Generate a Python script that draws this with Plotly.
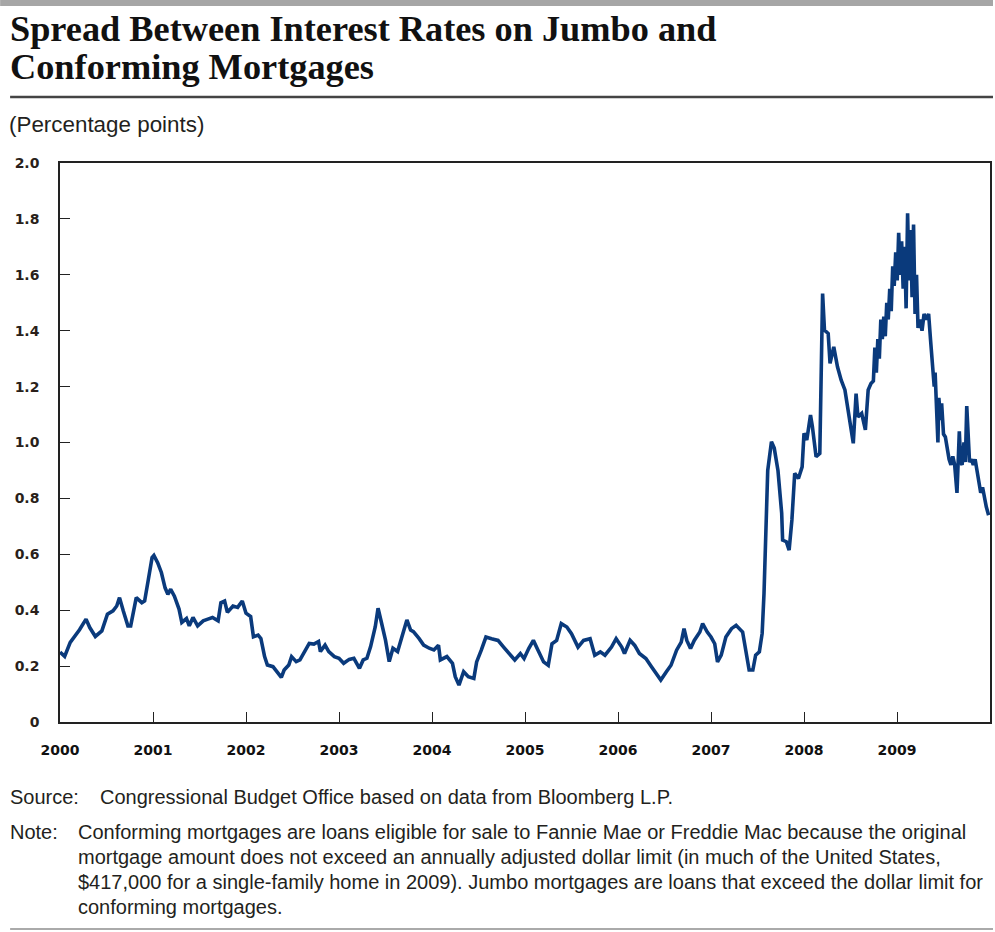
import plotly.graph_objects as go

# ---- data ----
years = [2000.00, 2000.05, 2000.11, 2000.16, 2000.21, 2000.28, 2000.32, 2000.38, 2000.45, 2000.51,
         2000.57, 2000.61, 2000.64, 2000.68, 2000.73, 2000.76, 2000.82, 2000.88, 2000.91, 2000.95,
         2000.99, 2001.01, 2001.05, 2001.09, 2001.13, 2001.16, 2001.19, 2001.23, 2001.28, 2001.31,
         2001.36, 2001.39, 2001.43, 2001.48, 2001.54, 2001.59, 2001.64, 2001.70, 2001.73, 2001.77,
         2001.80, 2001.86, 2001.91, 2001.96, 2002.00, 2002.05, 2002.08, 2002.13, 2002.16, 2002.20,
         2002.23, 2002.29, 2002.33, 2002.38, 2002.41, 2002.46, 2002.49, 2002.54, 2002.58, 2002.63,
         2002.68, 2002.73, 2002.78, 2002.80, 2002.85, 2002.89, 2002.95, 2003.00, 2003.05, 2003.11,
         2003.16, 2003.22, 2003.26, 2003.30, 2003.34, 2003.39, 2003.42, 2003.45, 2003.50, 2003.54,
         2003.58, 2003.63, 2003.68, 2003.73, 2003.77, 2003.80, 2003.86, 2003.91, 2003.97, 2004.02,
         2004.07, 2004.09, 2004.16, 2004.22, 2004.25, 2004.29, 2004.34, 2004.39, 2004.45, 2004.48,
         2004.53, 2004.58, 2004.64, 2004.71, 2004.77, 2004.84, 2004.89, 2004.95, 2004.99, 2005.04,
         2005.09, 2005.14, 2005.20, 2005.25, 2005.29, 2005.34, 2005.39, 2005.45, 2005.50, 2005.57,
         2005.63, 2005.70, 2005.75, 2005.81, 2005.86, 2005.93, 2005.98, 2006.04, 2006.07, 2006.13,
         2006.18, 2006.23, 2006.30, 2006.36, 2006.41, 2006.46, 2006.52, 2006.57, 2006.63, 2006.68,
         2006.71, 2006.74, 2006.78, 2006.82, 2006.88, 2006.91, 2006.96, 2007.00, 2007.04, 2007.07,
         2007.11, 2007.16, 2007.22, 2007.27, 2007.34, 2007.38, 2007.41, 2007.45, 2007.48, 2007.52,
         2007.55, 2007.57, 2007.59, 2007.61, 2007.65, 2007.68, 2007.72, 2007.76, 2007.77, 2007.81,
         2007.84, 2007.87, 2007.90, 2007.94, 2007.98, 2008.00, 2008.03, 2008.07, 2008.09, 2008.13,
         2008.17, 2008.20, 2008.22, 2008.26, 2008.28, 2008.32, 2008.36, 2008.40, 2008.44, 2008.47,
         2008.50, 2008.53, 2008.56, 2008.58, 2008.62, 2008.66, 2008.69, 2008.72,
         2008.746, 2008.762, 2008.778, 2008.794, 2008.810, 2008.826, 2008.842, 2008.858, 2008.874,
         2008.890, 2008.906, 2008.922, 2008.938, 2008.954, 2008.970, 2008.986, 2009.002, 2009.018,
         2009.034, 2009.050, 2009.066, 2009.082, 2009.098, 2009.114, 2009.130, 2009.146, 2009.162,
         2009.178, 2009.194, 2009.210, 2009.226, 2009.248, 2009.269, 2009.291, 2009.312, 2009.340,
         2009.360, 2009.380, 2009.400, 2009.410, 2009.430, 2009.440, 2009.450, 2009.470, 2009.480,
         2009.500, 2009.520, 2009.540, 2009.560, 2009.580, 2009.600, 2009.620, 2009.630, 2009.645,
         2009.660, 2009.670, 2009.685, 2009.700, 2009.720, 2009.735, 2009.750, 2009.765, 2009.780,
         2009.800, 2009.820, 2009.840, 2009.860, 2009.880, 2009.900, 2009.920, 2009.940, 2009.960,
         2009.985]

spread = [0.250, 0.235, 0.285, 0.308, 0.330, 0.368, 0.338, 0.306, 0.326, 0.386,
          0.398, 0.415, 0.445, 0.398, 0.344, 0.344, 0.445, 0.427, 0.433, 0.510,
          0.588, 0.596, 0.570, 0.535, 0.480, 0.457, 0.475, 0.450, 0.404, 0.356,
          0.370, 0.344, 0.374, 0.344, 0.362, 0.368, 0.374, 0.362, 0.427, 0.433,
          0.392, 0.415, 0.410, 0.433, 0.389, 0.377, 0.305, 0.311, 0.299, 0.234,
          0.204, 0.198, 0.180, 0.160, 0.186, 0.204, 0.234, 0.216, 0.222, 0.252,
          0.281, 0.279, 0.288, 0.252, 0.275, 0.252, 0.234, 0.228, 0.210, 0.224,
          0.228, 0.192, 0.222, 0.228, 0.270, 0.341, 0.407, 0.365, 0.293, 0.216,
          0.264, 0.252, 0.305, 0.365, 0.329, 0.323, 0.299, 0.275, 0.264, 0.258,
          0.275, 0.222, 0.234, 0.210, 0.162, 0.132, 0.180, 0.162, 0.156, 0.215,
          0.257, 0.304, 0.298, 0.292, 0.268, 0.239, 0.222, 0.245, 0.227, 0.263,
          0.292, 0.257, 0.215, 0.203, 0.280, 0.292, 0.352, 0.340, 0.316, 0.268,
          0.292, 0.298, 0.239, 0.251, 0.239, 0.268, 0.298, 0.268, 0.245, 0.292,
          0.274, 0.245, 0.227, 0.198, 0.174, 0.150, 0.180, 0.203, 0.257, 0.286,
          0.334, 0.292, 0.263, 0.292, 0.322, 0.352, 0.322, 0.304, 0.280, 0.215,
          0.239, 0.304, 0.334, 0.346, 0.322, 0.251, 0.186, 0.186, 0.239, 0.251,
          0.317, 0.460, 0.675, 0.900, 1.003, 0.980, 0.900, 0.747, 0.651, 0.645,
          0.615, 0.723, 0.890, 0.871, 0.913, 1.033, 1.009, 1.098, 1.057, 0.949,
          0.961, 1.533, 1.402, 1.390, 1.283, 1.342, 1.271, 1.223, 1.188, 1.128,
          1.068, 0.997, 1.175, 1.092, 1.104, 1.045, 1.188, 1.211,
          1.220, 1.340, 1.250, 1.370, 1.300, 1.440, 1.370, 1.450, 1.380,
          1.500, 1.440, 1.550, 1.470, 1.630, 1.560, 1.680, 1.580, 1.750,
          1.600, 1.720, 1.550, 1.700, 1.480, 1.820, 1.580, 1.760, 1.520,
          1.780, 1.460, 1.600, 1.410, 1.440, 1.400, 1.460, 1.440, 1.460,
          1.370, 1.300, 1.200, 1.250, 1.050, 1.000, 1.160, 1.080, 1.140,
          1.030, 1.020, 0.980, 0.940, 0.920, 0.950, 0.920, 0.860, 0.820,
          0.950, 1.040, 0.930, 0.920, 1.000, 0.930, 1.130, 1.020, 0.930,
          0.940, 0.920, 0.940, 0.900, 0.870, 0.820, 0.840, 0.800, 0.770,
          0.740]

year_ticks = [2000, 2001, 2002, 2003, 2004, 2005, 2006, 2007, 2008, 2009]
year_labels = ["<b>%d</b>" % y for y in year_ticks]
y_ticks = [0, 0.2, 0.4, 0.6, 0.8, 1.0, 1.2, 1.4, 1.6, 1.8, 2.0]
y_labels = ["<b>%s</b>" % s for s in
            ["0", "0.2", "0.4", "0.6", "0.8", "1.0", "1.2", "1.4", "1.6", "1.8", "2.0"]]

title_line1 = "Spread Between Interest Rates on Jumbo and"
title_line2 = "Conforming Mortgages"
units = "(Percentage points)"
source_text = "Congressional Budget Office based on data from Bloomberg L.P."
note_lines = [
    "Conforming mortgages are loans eligible for sale to Fannie Mae or Freddie Mac because the original",
    "mortgage amount does not exceed an annually adjusted dollar limit (in much of the United States,",
    "$417,000 for a single-family home in 2009). Jumbo mortgages are loans that exceed the dollar limit for",
    "conforming mortgages.",
]

# ---- layout geometry ----
W, H = 995, 932
ML, MR, MT, MB = 60, 3, 163, 210
PW, PH = W - ML - MR, H - MT - MB


def px(x):
    return (x - ML) / PW


def py(y):
    return (H - MB - y) / PH


TEXT = "#231f20"
LINE_COLOR = "#0a3a7c"
small_font = dict(family="Liberation Sans, Arial, sans-serif", size=20, color=TEXT)
title_font = dict(family="Liberation Serif, Times New Roman, serif", size=36.3, color="#111")

fig = go.Figure()
fig.add_trace(go.Scatter(x=years, y=spread, mode="lines",
                         line=dict(color=LINE_COLOR, width=3.6),
                         hoverinfo="skip", showlegend=False))

annotations = [
    dict(text="<b>" + title_line1 + "</b>", x=px(8), y=py(29), xanchor="left", yanchor="middle",
         font=title_font),
    dict(text="<b>" + title_line2 + "</b>", x=px(8), y=py(67), xanchor="left", yanchor="middle",
         font=title_font),
    dict(text=units, x=px(7), y=py(124), xanchor="left", yanchor="middle",
         font=dict(family="Liberation Sans, Arial, sans-serif", size=22.4, color=TEXT)),
    dict(text="Source:", x=px(8), y=py(797), xanchor="left", yanchor="middle", font=small_font),
    dict(text=source_text, x=px(98), y=py(797), xanchor="left", yanchor="middle", font=small_font),
    dict(text="Note:", x=px(8), y=py(832), xanchor="left", yanchor="middle", font=small_font),
]
for i, ln in enumerate(note_lines):
    annotations.append(dict(text=ln, x=px(76), y=py(832 + 25 * i), xanchor="left",
                            yanchor="middle", font=small_font))
for a in annotations:
    a.update(xref="paper", yref="paper", showarrow=False)

shapes = [
    dict(type="rect", xref="paper", yref="paper", x0=px(0), x1=px(W), y0=py(0), y1=py(6),
         fillcolor="#a6a6a6", line=dict(width=0)),
    dict(type="line", xref="paper", yref="paper", x0=px(10), x1=px(W), y0=py(97), y1=py(97),
         line=dict(color="#444", width=2.5)),
    dict(type="line", xref="paper", yref="paper", x0=px(10), x1=px(W), y0=py(929), y1=py(929),
         line=dict(color="#aaa", width=2)),
]

fig.update_layout(
    width=W, height=H,
    margin=dict(l=ML, r=MR, t=MT, b=MB, pad=0),
    paper_bgcolor="white", plot_bgcolor="white",
    showlegend=False,
    annotations=annotations,
    shapes=shapes,
    xaxis=dict(range=[2000, 2010], tickmode="array", tickvals=year_ticks, ticktext=year_labels,
               ticks="inside", ticklen=10, tickwidth=1.3, tickcolor="#222",
               showline=True, linecolor="#222", linewidth=1.5, mirror=True,
               showgrid=False, zeroline=False, ticklabelstandoff=14,
               tickfont=dict(family="DejaVu Sans, sans-serif", size=14, color="#111"),
               fixedrange=True),
    yaxis=dict(range=[0, 2], tickmode="array", tickvals=y_ticks, ticktext=y_labels,
               ticks="inside", ticklen=10, tickwidth=1.3, tickcolor="#222",
               showline=True, linecolor="#222", linewidth=1.5, mirror=True,
               showgrid=False, zeroline=False, ticklabelstandoff=16,
               tickfont=dict(family="DejaVu Sans, sans-serif", size=14, color="#2a1f1a"),
               fixedrange=True),
)

fig.write_html("out.html", config={"displayModeBar": False},
               post_script="document.body.style.margin='0';")
